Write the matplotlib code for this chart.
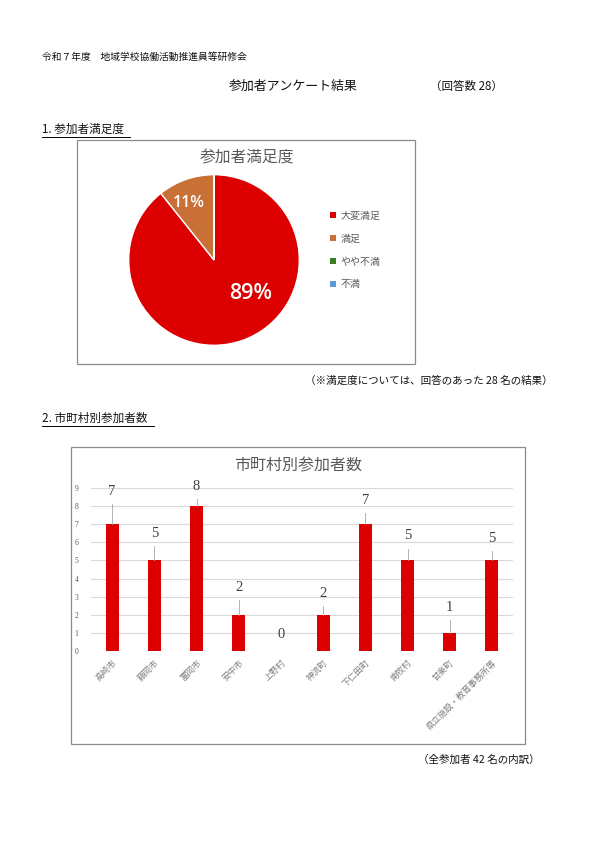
import matplotlib
matplotlib.use("Agg")
import matplotlib.pyplot as plt
from matplotlib.patches import Rectangle
from matplotlib.lines import Line2D

plt.rcParams['font.family'] = ['Noto Sans CJK JP', 'DejaVu Sans']

# ---- data ----
sat_categories = ['大変満足', '満足', 'やや不満', '不満']
sat_counts = [25, 3, 0, 0]
sat_colors = ['#DD0000', '#C97037', '#3A7D22', '#5B9BD5']

municipalities = ['高崎市', '藤岡市', '富岡市', '安中市', '上野村', '神流町',
                  '下仁田町', '南牧村', '甘楽町', '県立施設・教育事務所等']
participants = [7, 5, 8, 2, 0, 2, 7, 5, 1, 5]
y_ticks = list(range(0, 10))

# label layout (offset of data label above bar, in axis units)
label_offsets = [1.8, 1.5, 1.1, 1.5, 0.9, 1.2, 1.3, 1.35, 1.4, 1.2]

W, H = 595, 841
fig = plt.figure(figsize=(W / 100, H / 100), dpi=100)


def fx(x):
    return x / W


def fy(y):
    return 1 - y / H


def ftext(x, y, s, **kw):
    fig.text(fx(x), fy(y), s, **kw)


def hline(x0, x1, y, color='#000000', lw=0.7):
    fig.add_artist(Line2D([fx(x0), fx(x1)], [fy(y), fy(y)], color=color,
                          lw=lw, transform=fig.transFigure))


def box(x0, y0, x1, y1):
    fig.add_artist(Rectangle((fx(x0), fy(y1)), fx(x1) - fx(x0), fy(y0) - fy(y1),
                             transform=fig.transFigure, fill=False,
                             edgecolor='#8C8C8C', lw=0.9))


# ---- page texts ----
ftext(42, 57, '令和７年度\u3000地域学校協働活動推進員等研修会', fontsize=7, va='center', color='#111111')
ftext(293, 86, '参加者アンケート結果', fontsize=9.3, ha='center', va='center', color='#111111')
ftext(466, 86, '（回答数 28）', fontsize=8.3, ha='center', va='center', color='#111111')

ftext(42, 129, '1. 参加者満足度', fontsize=8.4, va='center', color='#111111')
hline(42, 130, 137)

ftext(553, 381, '（※満足度については、回答のあった 28 名の結果）', fontsize=7.6, ha='right', va='center', color='#111111')

ftext(42, 418, '2. 市町村別参加者数', fontsize=8.4, va='center', color='#111111')
hline(42, 154, 426)

ftext(540, 760, '（全参加者 42 名の内訳）', fontsize=7.6, ha='right', va='center', color='#111111')

# ---- pie chart ----
box(77, 140, 415, 364)
ftext(247, 158, '参加者満足度', fontsize=11.3, ha='center', va='center', color='#595959')

cx, cy, r = 214, 260, 87
ax1 = fig.add_axes([fx(cx - r), fy(cy + r), (2 * r) / W, (2 * r) / H])
wedges, texts, autotexts = ax1.pie(
    sat_counts, colors=sat_colors, startangle=90, counterclock=False,
    wedgeprops=dict(edgecolor='white', linewidth=1.0),
    autopct=lambda p: f'{p:.0f}%' if p > 0 else '',
    textprops=dict(color='white'))
ax1.set_xlim(-1.02, 1.02)
ax1.set_ylim(-1.02, 1.02)
pct_pos = [(0.43, -0.39), (-0.30, 0.67), (0, 0), (0, 0)]
pct_size = [15.5, 11.5, 10, 10]
for t, pos, fs in zip(autotexts, pct_pos, pct_size):
    t.set_position(pos)
    t.set_fontsize(fs)
    t.set_family(['Open Sans', 'DejaVu Sans'])
    t.set_fontweight('semibold')

leg = fig.legend(wedges, sat_categories, loc='upper left',
                 bbox_to_anchor=(fx(330), fy(211)), frameon=False,
                 fontsize=7.2, handlelength=0.55, handleheight=0.55,
                 handletextpad=0.5, labelspacing=1.28, borderpad=0,
                 borderaxespad=0)
for t in leg.get_texts():
    t.set_color('#595959')
for h in leg.legend_handles:
    h.set_edgecolor('none')

# ---- bar chart ----
box(71, 447, 525, 744)
ftext(298, 466, '市町村別参加者数', fontsize=11.5, ha='center', va='center', color='#595959')

x0, x1, y0, y9 = 91, 513, 651, 488
ax2 = fig.add_axes([fx(x0), fy(y0), (x1 - x0) / W, (y0 - y9) / H])
xs = list(range(len(municipalities)))
ax2.bar(xs, participants, width=0.31, color='#DD0000', zorder=3)
ax2.set_xlim(-0.5, len(municipalities) - 0.5)
ax2.set_ylim(0, 9)
ax2.set_yticks(y_ticks)
ax2.set_yticklabels([str(v) for v in y_ticks], family=['Liberation Serif'],
                    fontsize=5.5, color='#595959')
ax2.set_xticks(xs)
ax2.set_xticklabels(municipalities, rotation=45, ha='right', va='top',
                    rotation_mode='anchor', fontsize=6.2, color='#7F7F7F')
ax2.tick_params(axis='both', length=0)
ax2.tick_params(axis='x', pad=5)
ax2.tick_params(axis='y', pad=9)
for s in ax2.spines.values():
    s.set_visible(False)
ax2.grid(axis='y', color='#D9D9D9', lw=0.8, zorder=0)
ax2.set_axisbelow(True)

for xi, v, off in zip(xs, participants, label_offsets):
    ly = v + off
    ax2.text(xi, ly, str(v), ha='center', va='center', fontsize=10.5,
             family=['Liberation Serif'], color='#404040', zorder=5, clip_on=False)
    if v > 0:
        ax2.plot([xi, xi], [v, ly - 0.7], color='#A6A6A6', lw=0.6, zorder=4, clip_on=False)

fig.savefig('out.png', dpi=100)
